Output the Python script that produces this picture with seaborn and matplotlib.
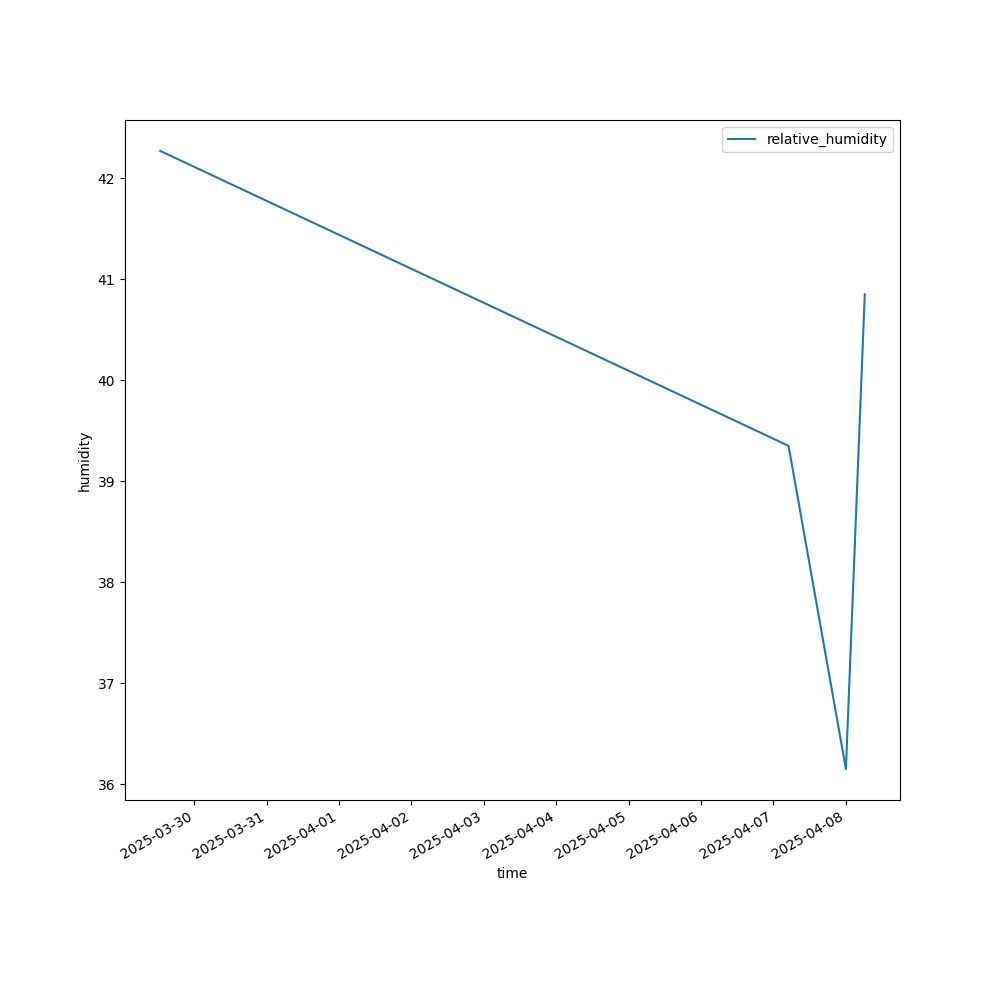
import matplotlib
matplotlib.use("Agg")
import matplotlib.pyplot as plt
import pandas as pd
import seaborn as sns

# Readings
times = ["2025-03-29 12:45", "2025-04-07 05:00", "2025-04-08 00:00", "2025-04-08 06:15"]
humidity = [42.27, 39.35, 36.15, 40.85]

df = pd.DataFrame({"time": pd.to_datetime(times), "humidity": humidity})

fig, ax = plt.subplots(figsize=(10, 10), dpi=100)
sns.lineplot(data=df, x="time", y="humidity", ax=ax, color="#1f77b4",
             label="relative_humidity")
ax.set_xlabel("time")
ax.set_ylabel("humidity")
ax.legend(loc="upper right")
fig.autofmt_xdate()

fig.savefig("out.png", dpi=100)
